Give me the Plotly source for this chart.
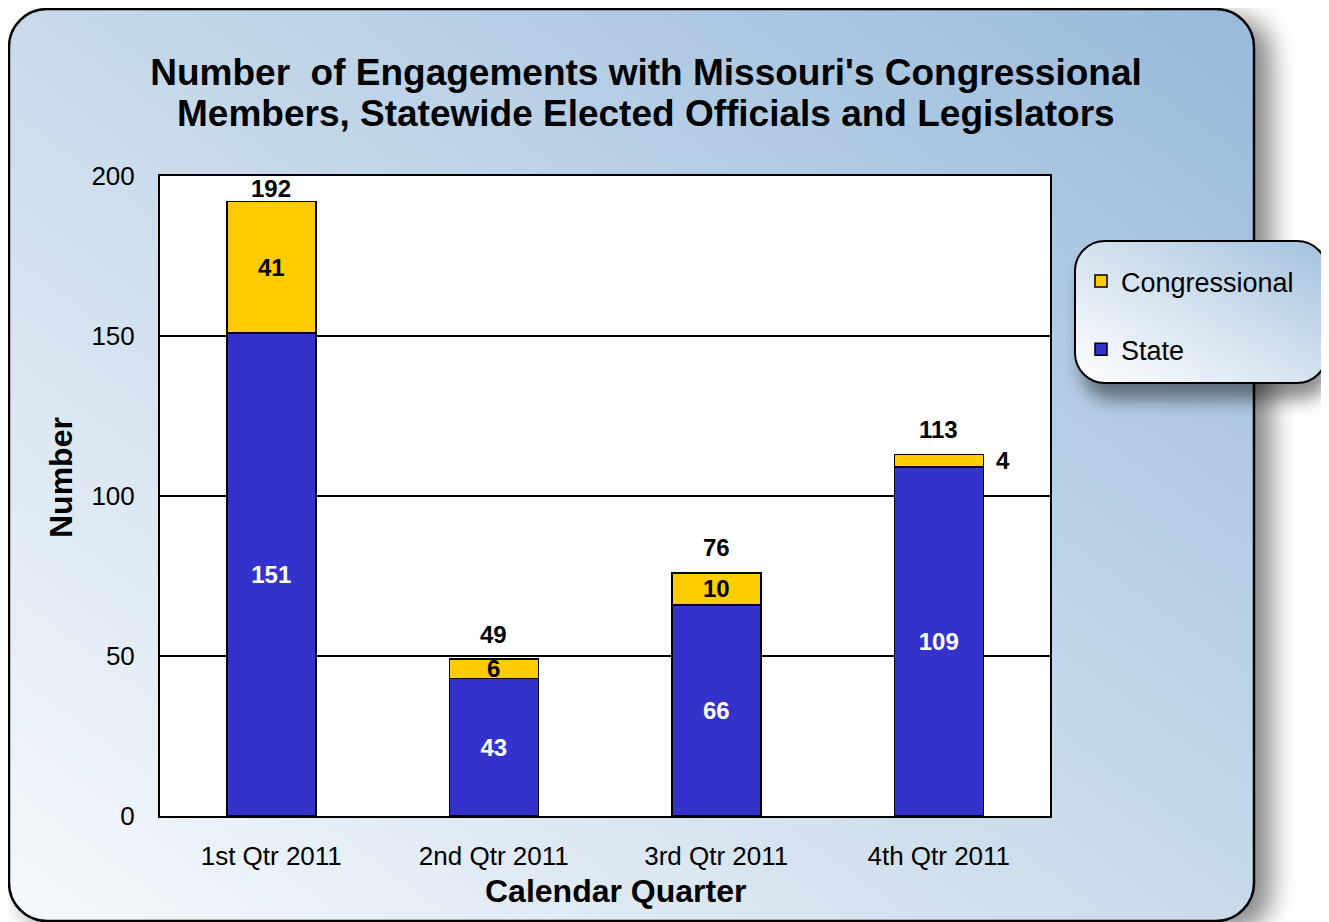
import base64
import plotly.graph_objects as go

quarters = ["1st Qtr 2011", "2nd Qtr 2011", "3rd Qtr 2011", "4th Qtr 2011"]
state = [151, 43, 66, 109]
congressional = [41, 6, 10, 4]
totals = [192, 49, 76, 113]
y_ticks = [0, 50, 100, 150, 200]

# the page body has an 8px margin, so the figure is drawn 8px right/down
W, H = 1321, 914
ML, MR, MT, MB = 152, 279, 168, 106
PW, PH = W - ML - MR, H - MT - MB


def px_x(px):
    return (px - ML) / PW


def px_y(py):
    return (MT + PH - py) / PH


FONT = "Arial, Liberation Sans, sans-serif"
YELLOW = "#FFCC00"
BLUE = "#3333CC"

svg = f'''<svg xmlns="http://www.w3.org/2000/svg" width="{W}" height="{H}" viewBox="0 0 {W} {H}">
<defs>
<linearGradient id="g1" x1="0" y1="1" x2="1" y2="0">
<stop offset="0" stop-color="#f6f9fc"/>
<stop offset="0.5" stop-color="#c8daeb"/>
<stop offset="1" stop-color="#98badb"/>
</linearGradient>
<linearGradient id="g2" x1="0" y1="1" x2="1" y2="0">
<stop offset="0" stop-color="#ffffff"/>
<stop offset="0.5" stop-color="#d4e2ef"/>
<stop offset="1" stop-color="#a2c1de"/>
</linearGradient>
<filter id="sh" x="-20%" y="-20%" width="140%" height="140%">
<feGaussianBlur stdDeviation="12"/>
</filter>
<filter id="sh2" x="-30%" y="-30%" width="160%" height="160%">
<feGaussianBlur stdDeviation="9"/>
</filter>
</defs>
<rect x="14" y="8" width="1250" height="915" rx="38" fill="#000" opacity="0.45" filter="url(#sh)"/>
<rect x="1" y="1" width="1245" height="912" rx="38" fill="url(#g1)" stroke="#000" stroke-width="2.5"/>
<rect x="1074" y="250" width="248" height="142" rx="30" fill="#000" opacity="0.45" filter="url(#sh2)"/>
<rect x="1067" y="233" width="252" height="142" rx="30" fill="url(#g2)" stroke="#000" stroke-width="2"/>
</svg>'''
svg_uri = "data:image/svg+xml;base64," + base64.b64encode(svg.encode()).decode()

cong_text = [str(v) if v >= 5 else "" for v in congressional]

fig = go.Figure()
fig.add_trace(go.Bar(
    name="State", x=quarters, y=state, marker=dict(color=BLUE, line=dict(color="black", width=1.5)),
    text=[str(v) for v in state], textposition="inside", insidetextanchor="middle",
    constraintext="none", textangle=0,
    textfont=dict(family=FONT, size=24, color="white", weight="bold"),
    legendgroup="s", legendrank=2, hoverinfo="x+y+name",
))
fig.add_trace(go.Bar(
    name="Congressional", x=quarters, y=congressional,
    marker=dict(color=YELLOW, line=dict(color="black", width=1.5)),
    text=cong_text, textposition="inside", insidetextanchor="middle",
    constraintext="none", textangle=0,
    textfont=dict(family=FONT, size=24, color="black", weight="bold"),
    legendgroup="c", legendrank=1, hoverinfo="x+y+name",
))

total_shifts = [13, 25, 25, 25]
for q, t, s in zip(quarters, totals, total_shifts):
    fig.add_annotation(x=q, y=t, text=f"<b>{t}</b>", showarrow=False, yshift=s,
                       font=dict(family=FONT, size=24, color="black"))
for q, s, c in zip(quarters, state, congressional):
    if c < 5:
        fig.add_annotation(x=q, y=s + c / 2, text=f"<b>{c}</b>", showarrow=False, xshift=64,
                           font=dict(family=FONT, size=24, color="black"))

# second title line (kept separate to match the tighter line spacing)
fig.add_annotation(
    text="Members, Statewide Elected Officials and Legislators",
    xref="paper", yref="paper", x=px_x(638), y=px_y(105),
    xanchor="center", yanchor="middle", showarrow=False,
    font=dict(family=FONT, size=37, color="black", weight="bold"),
)
# axis titles (offset from the plot-area centre as in the original)
fig.add_annotation(
    text="Calendar Quarter", xref="paper", yref="paper", x=px_x(607), y=px_y(883),
    xanchor="center", yanchor="middle", showarrow=False,
    font=dict(family=FONT, size=32, color="black", weight="bold"),
)
fig.add_annotation(
    text="Number", xref="paper", yref="paper", x=px_x(53), y=px_y(470), textangle=-90,
    xanchor="center", yanchor="middle", showarrow=False,
    font=dict(family=FONT, size=32, color="black", weight="bold"),
)

fig.update_layout(
    width=W, height=H,
    margin=dict(l=ML, r=MR, t=MT, b=MB, pad=0),
    barmode="stack", bargap=0.6,
    paper_bgcolor="white", plot_bgcolor="white",
    font=dict(family=FONT, color="black"),
    title=dict(
        text="Number\u00a0 of Engagements with Missouri's Congressional",
        x=638 / W, xanchor="center", xref="container",
        y=1 - 64 / H, yanchor="middle", yref="container",
        font=dict(family=FONT, size=37, color="black", weight="bold"),
    ),
    xaxis=dict(
        showline=True, linecolor="black", linewidth=2, mirror=True,
        ticks="outside", ticklen=16, tickcolor="rgba(0,0,0,0)",
        tickfont=dict(family=FONT, size=26, color="black"),
    ),
    yaxis=dict(
        range=[0, 200], tickvals=y_ticks,
        showline=True, linecolor="black", linewidth=2, mirror=True,
        showgrid=True, gridcolor="black", gridwidth=2, zeroline=False,
        ticks="outside", ticklen=18, tickcolor="rgba(0,0,0,0)",
        tickfont=dict(family=FONT, size=26, color="black"),
    ),
    legend=dict(
        x=px_x(1073), xanchor="left",
        y=px_y(249), yanchor="top",
        bgcolor="rgba(0,0,0,0)", borderwidth=0,
        font=dict(family=FONT, size=27, color="black"),
        traceorder="grouped", tracegroupgap=30,
    ),
    shapes=[dict(type="rect", xref="paper", yref="paper", x0=0, x1=1, y0=0, y1=1,
                 fillcolor="white", line=dict(width=0), layer="below")],
    images=[dict(
        source=svg_uri, xref="paper", yref="paper",
        x=-ML / PW, y=1 + MT / PH, sizex=W / PW, sizey=H / PH,
        xanchor="left", yanchor="top", sizing="stretch", layer="below",
    )],
    showlegend=True,
)

fig.write_html("out.html")
